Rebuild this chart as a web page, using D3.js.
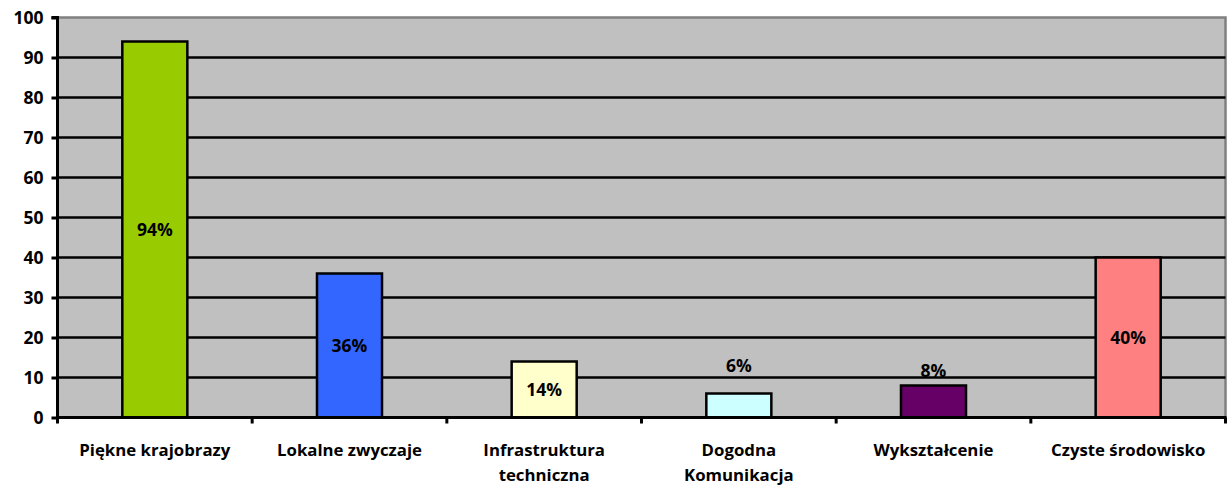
<!DOCTYPE html>
<html><head><meta charset="utf-8">
<script src="https://cdn.jsdelivr.net/npm/d3@7"></script>
<style>
html,body{margin:0;padding:0;background:#fff;}
text{font-family:"Open Sans",sans-serif;font-weight:bold;fill:#000;}
</style></head>
<body><svg id="c" width="1227" height="489"></svg>
<script>
const categories = [["Piękne krajobrazy"],["Lokalne zwyczaje"],["Infrastruktura","techniczna"],["Dogodna","Komunikacja"],["Wykształcenie"],["Czyste środowisko"]];
const values = [94, 36, 14, 6, 8, 40];
const labels = ["94%","36%","14%","6%","8%","40%"];
const colors = ["#99CC00","#3366FF","#FFFFCC","#CCFFFF","#660066","#FF8080"];
const yTicks = [0,10,20,30,40,50,60,70,80,90,100];

const svg = d3.select("#c");
const L = 57.5, R = 1225.5, T = 17.5, B = 417.5;
const x = d3.scaleBand().domain(d3.range(values.length)).range([L, R]).paddingInner(0.666).paddingOuter(0.333);
const xb = d3.scaleBand().domain(d3.range(values.length)).range([L, R]);
const y = d3.scaleLinear().domain([0,100]).range([B, T]);

svg.append("rect").attr("x",L).attr("y",T).attr("width",R-L).attr("height",B-T).attr("fill","#C0C0C0").attr("stroke","#808080").attr("stroke-width",2.5);

svg.append("g").selectAll("line").data(yTicks.filter(d=>d>0 && d<100)).join("line")
  .attr("x1",L).attr("x2",R).attr("y1",d=>y(d)).attr("y2",d=>y(d)).attr("stroke","#000").attr("stroke-width",2.5);

svg.append("g").selectAll("rect").data(values).join("rect")
  .attr("x",(d,i)=>x(i)).attr("width",x.bandwidth())
  .attr("y",d=>y(d)).attr("height",d=>B-y(d))
  .attr("fill",(d,i)=>colors[i]).attr("stroke","#000").attr("stroke-width",2.5);

// axes
const ya = d3.axisLeft(y).tickValues(yTicks).tickSize(6).tickPadding(8);
const gy = svg.append("g").attr("transform",`translate(${L},0)`).call(ya);
gy.select(".domain").attr("stroke","#000").attr("stroke-width",3).attr("d",`M-6,${T}H0V${B}`);
gy.selectAll(".tick line").attr("stroke","#000").attr("stroke-width",3);
gy.selectAll(".tick text").style("font-size","17.5px").style("font-family","'Open Sans', sans-serif").style("font-weight","bold").attr("fill","#000");

const gx = svg.append("g").attr("transform",`translate(0,${B})`);
gx.append("line").attr("x1",L-1.5).attr("x2",R+1).attr("stroke","#000").attr("stroke-width",3);
gx.selectAll("line.t").data(d3.range(values.length+1)).join("line").attr("class","t")
  .attr("x1",i=>L+i*xb.step()).attr("x2",i=>L+i*xb.step()).attr("y1",0).attr("y2",6).attr("stroke","#000").attr("stroke-width",3);
const ct = gx.selectAll("text.c").data(categories).join("text").attr("class","c")
  .attr("x",(d,i)=>xb(i)+xb.bandwidth()/2).attr("text-anchor","middle").style("font-size","16.8px");
ct.selectAll("tspan").data(d=>d).join("tspan").attr("x",function(){return this.parentNode.getAttribute("x");})
  .attr("y",(d,j)=>38.5+j*25).text(d=>d);

// data labels
svg.append("g").selectAll("text").data(values).join("text")
  .attr("x",(d,i)=>x(i)+x.bandwidth()/2)
  .attr("y",(d,i)=>{
     if (d>=10) return (y(d)+B)/2 + 6.5;
     return y(d) - (d<7 ? 22 : 9);
  })
  .attr("text-anchor","middle").style("font-size","17.5px").text((d,i)=>labels[i]);
</script></body></html>
